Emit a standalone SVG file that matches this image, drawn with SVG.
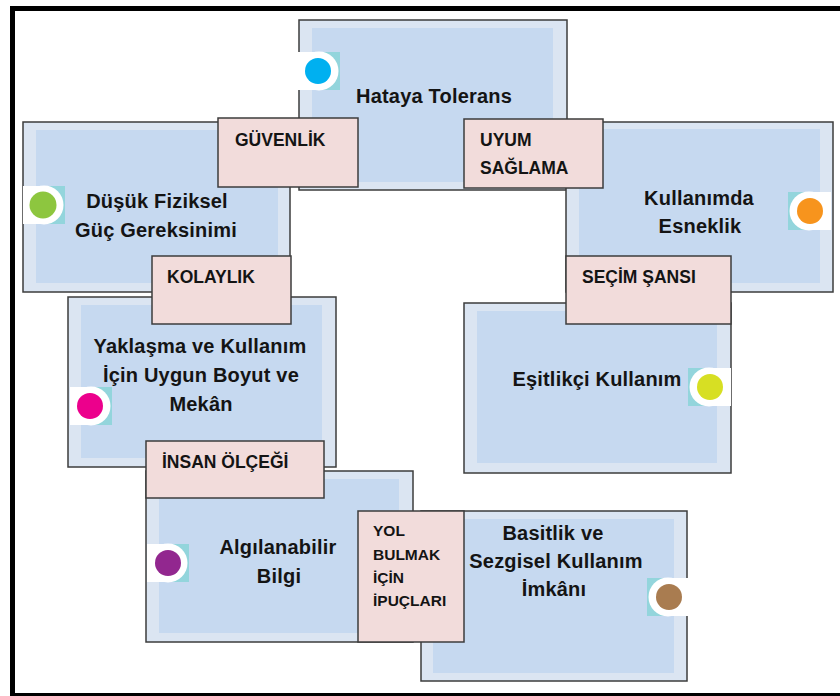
<svg xmlns="http://www.w3.org/2000/svg" xmlns:xlink="http://www.w3.org/1999/xlink" width="840" height="696" viewBox="0 0 840 696">
<style>
.box{fill:#dbe5f2;stroke:#3c3c3c;stroke-width:1.5}
.inner{fill:#c6d9f0}
.lbl{fill:#f2dcdb;stroke:#3c3c3c;stroke-width:1.5}
.t{font-family:"Liberation Sans",Arial,sans-serif;font-weight:bold;font-size:20px;letter-spacing:0.2px;fill:#141414;text-anchor:middle}
.l{font-family:"Liberation Sans",Arial,sans-serif;font-weight:bold;font-size:17.5px;fill:#141414}
.s{font-family:"Liberation Sans",Arial,sans-serif;font-weight:bold;font-size:15.5px;fill:#141414}
.teal{fill:#93d5dc}
.wh{fill:#ffffff}
</style>
<defs>
<g id="tabL"><rect class="wh" x="-21" y="-19" width="21" height="38"/><rect class="teal" x="0" y="-19" width="21" height="38"/><circle class="wh" r="19.5"/></g>
<g id="tabR"><rect class="teal" x="-21" y="-19" width="21" height="38"/><rect class="wh" x="0" y="-19" width="22" height="38"/><circle class="wh" r="19.5"/></g>
</defs>
<rect width="840" height="696" fill="#ffffff"/>
<rect x="12.5" y="8.5" width="840" height="687" fill="none" stroke="#000" stroke-width="5"/>
<g id="connectors"/>
<g id="n-hataya">
<rect class="box" x="299" y="20" width="268" height="170"/>
<rect class="inner" x="312" y="28" width="241" height="154"/>
<use xlink:href="#tabL" x="319" y="71"/><circle cx="318" cy="71" r="13" fill="#00b0f0"/>
<text class="t" x="434" y="103">Hataya Tolerans</text>
</g>
<g id="n-dusuk">
<rect class="box" x="23" y="122" width="267" height="170"/>
<rect class="inner" x="36" y="130" width="242" height="153"/>
<use xlink:href="#tabL" x="44" y="205"/><circle cx="43" cy="205" r="13.5" fill="#8dc63f"/>
<text class="t" x="157" y="208">Düşük Fiziksel</text>
<text class="t" x="156" y="237">Güç Gereksinimi</text>
</g>
<g id="n-kullanimda">
<rect class="box" x="566" y="122" width="267" height="170"/>
<rect class="inner" x="579" y="129" width="241" height="154"/>
<use xlink:href="#tabR" x="809" y="211"/><circle cx="810" cy="211" r="13" fill="#f7941d"/>
<text class="t" x="699" y="205">Kullanımda</text>
<text class="t" x="700" y="233">Esneklik</text>
</g>
<g id="n-yaklasma">
<rect class="box" x="68" y="297" width="268" height="170"/>
<rect class="inner" x="81" y="305" width="241" height="153"/>
<use xlink:href="#tabL" x="91" y="406"/><circle cx="90" cy="406" r="13" fill="#ec008c"/>
<text class="t" x="200" y="353">Yaklaşma ve Kullanım</text>
<text class="t" x="201" y="382">İçin Uygun Boyut ve</text>
<text class="t" x="201" y="411">Mekân</text>
</g>
<g id="n-esitlikci">
<rect class="box" x="464" y="303" width="267" height="170"/>
<rect class="inner" x="477" y="311" width="240" height="152"/>
<use xlink:href="#tabR" x="709" y="387"/><circle cx="710" cy="387" r="13" fill="#d7df23"/>
<text class="t" x="597" y="386">Eşitlikçi Kullanım</text>
</g>
<g id="n-algilanabilir">
<rect class="box" x="146" y="471" width="267" height="171"/>
<rect class="inner" x="159" y="479" width="240" height="154"/>
<use xlink:href="#tabL" x="168" y="563"/><circle cx="168" cy="563" r="13" fill="#92278f"/>
<text class="t" x="278" y="554">Algılanabilir</text>
<text class="t" x="279" y="583">Bilgi</text>
</g>
<g id="n-basitlik">
<rect class="box" x="421" y="511" width="266" height="170"/>
<rect class="inner" x="433" y="519" width="241" height="154"/>
<use xlink:href="#tabR" x="668" y="597"/><circle cx="669" cy="597" r="13" fill="#a97c50"/>
<text class="t" x="553" y="540">Basitlik ve</text>
<text class="t" x="556" y="568">Sezgisel Kullanım</text>
<text class="t" x="554" y="596">İmkânı</text>
</g>
<g id="l-guvenlik">
<rect class="lbl" x="218" y="118" width="140" height="69"/>
<text class="l" x="235" y="146">GÜVENLİK</text>
</g>
<g id="l-uyum">
<rect class="lbl" x="464" y="119" width="139" height="69"/>
<text class="l" x="480" y="146">UYUM</text>
<text class="l" x="480" y="174">SAĞLAMA</text>
</g>
<g id="l-kolaylik">
<rect class="lbl" x="152" y="256" width="139" height="68"/>
<text class="l" x="167" y="283">KOLAYLIK</text>
</g>
<g id="l-secim">
<rect class="lbl" x="566" y="256" width="165" height="68"/>
<text class="l" x="582" y="283">SEÇİM ŞANSI</text>
</g>
<g id="l-insan">
<rect class="lbl" x="146" y="441" width="178" height="57"/>
<text class="l" x="162" y="468">İNSAN ÖLÇEĞİ</text>
</g>
<g id="l-yol">
<rect class="lbl" x="358" y="511" width="106" height="131"/>
<text class="s" x="373" y="536">YOL</text>
<text class="s" x="373" y="560">BULMAK</text>
<text class="s" x="373" y="583">İÇİN</text>
<text class="s" x="373" y="606">İPUÇLARI</text>
</g>
</svg>
